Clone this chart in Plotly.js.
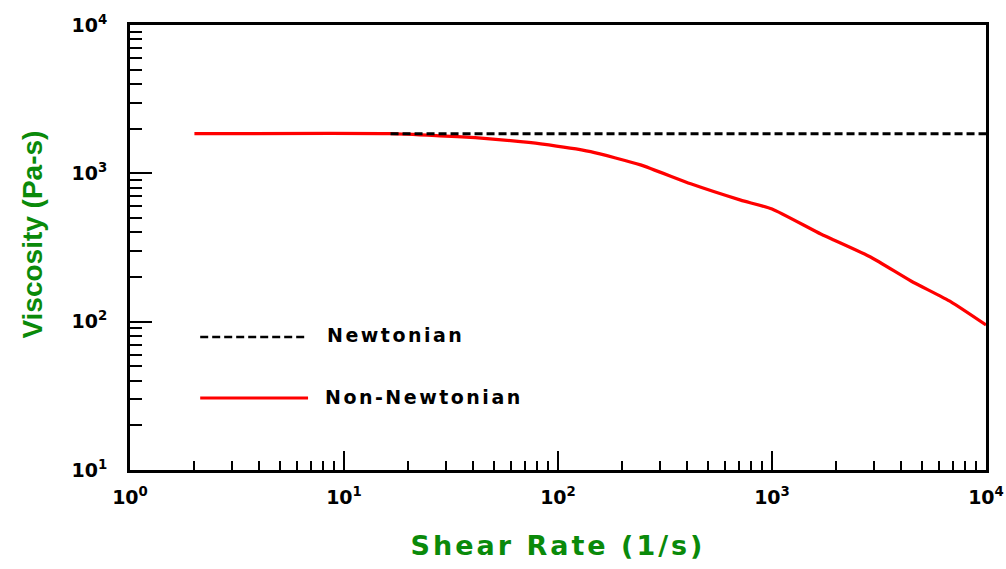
<!DOCTYPE html>
<html>
<head>
<meta charset="utf-8">
<script src="https://cdn.plot.ly/plotly-3.0.1.min.js"></script>
<style>
  html, body { margin: 0; padding: 0; background: #fff; }
  #chart { width: 1006px; height: 569px; }
  .xtitle { letter-spacing: 3px; }
  .annotation-text { letter-spacing: 2.5px; }
  .annotation-text[style*="Liberation"] { letter-spacing: 0; }
</style>
</head>
<body>
<div id="chart"></div>
<script>
// Shear-thinning viscosity curve vs. a constant Newtonian viscosity
const shearRateNonNewtonian = [2, 16.5, 28, 41, 60, 83, 142, 243, 417, 714, 1000, 1690, 2900, 4460, 6860, 10000];
const viscosityNonNewtonian = [1850, 1850, 1790, 1740, 1660, 1580, 1400, 1140, 850, 660, 575, 390, 272, 188, 136, 95];

const shearRateNewtonian = [16.5, 10000];
const viscosityNewtonian = [1850, 1850];

const xTickVals = [1, 10, 100, 1000, 10000];
const xTickText = ['10<sup>0</sup>', '10<sup>1</sup>', '10<sup>2</sup>', '10<sup>3</sup>', '10<sup>4</sup>'];
const yTickVals = [10, 100, 1000, 10000];
const yTickText = ['10<sup>1</sup>', '10<sup>2</sup>', '10<sup>3</sup>', '10<sup>4</sup>'];

const seriesNames = ['Newtonian', 'Non-Newtonian'];
const xTitle = 'Shear Rate (1/s)';
const yTitle = 'Viscosity (Pa-s)';

// minor ticks at 2..9 of every decade
function minorTicks(lo, hi) {
  const out = [];
  for (let d = lo; d < hi; d++) {
    for (let k = 2; k <= 9; k++) out.push(k * Math.pow(10, d));
  }
  return out;
}

const green = '#0a8a0a';
const tickFont = { family: 'DejaVu Sans', size: 19, color: '#000', weight: 'bold' };
const legendFont = { family: 'DejaVu Sans', size: 19, color: '#000', weight: 'bold' };

const traces = [
  {
    x: shearRateNonNewtonian, y: viscosityNonNewtonian,
    type: 'scatter', mode: 'lines', name: seriesNames[1],
    line: { color: '#ff0000', width: 3.2, shape: 'spline', smoothing: 0.5 }
  },
  {
    x: shearRateNewtonian, y: viscosityNewtonian,
    type: 'scatter', mode: 'lines', name: seriesNames[0],
    line: { color: '#000', width: 3, dash: '8px,4px' }
  }
];

const layout = {
  width: 1006, height: 569,
  paper_bgcolor: '#fff', plot_bgcolor: '#fff',
  margin: { l: 130, r: 20, t: 25, b: 99 },
  showlegend: false,
  xaxis: {
    type: 'log', range: [0, 4],
    showline: true, linecolor: '#000', linewidth: 3, mirror: true,
    showgrid: false, zeroline: false,
    tickmode: 'array', tickvals: xTickVals, ticktext: xTickText,
    ticks: 'inside', ticklen: 19, tickwidth: 2, tickcolor: '#000',
    ticklabelstandoff: 8,
    tickfont: tickFont,
    minor: { tickmode: 'array', tickvals: minorTicks(0, 4), ticks: 'inside', ticklen: 9, tickwidth: 2, tickcolor: '#000', showgrid: false },
    title: { text: xTitle, standoff: 30, font: { family: 'DejaVu Sans', size: 27, color: green, weight: 'bold' } },
    automargin: false
  },
  yaxis: {
    type: 'log', range: [1, 4],
    showline: true, linecolor: '#000', linewidth: 3, mirror: true,
    showgrid: false, zeroline: false,
    tickmode: 'array', tickvals: yTickVals, ticktext: yTickText,
    ticks: 'inside', ticklen: 22, tickwidth: 2, tickcolor: '#000',
    ticklabelstandoff: 16,
    tickfont: tickFont,
    minor: { tickmode: 'array', tickvals: minorTicks(1, 4), ticks: 'inside', ticklen: 12, tickwidth: 2, tickcolor: '#000', showgrid: false },
    automargin: false
  },
  // in-plot legend
  shapes: [
    { type: 'line', xref: 'paper', yref: 'paper', x0: 0.082, x1: 0.208, y0: 0.299, y1: 0.299,
      line: { color: '#000', width: 2.5, dash: '8px,4px' } },
    { type: 'line', xref: 'paper', yref: 'paper', x0: 0.082, x1: 0.208, y0: 0.162, y1: 0.162,
      line: { color: '#ff0000', width: 3 } }
  ],
  annotations: [
    { xref: 'paper', yref: 'paper', x: 0.228, y: 0.303, xanchor: 'left', yanchor: 'middle', showarrow: false,
      text: seriesNames[0], font: legendFont },
    { xref: 'paper', yref: 'paper', x: 0.226, y: 0.164, xanchor: 'left', yanchor: 'middle', showarrow: false,
      text: seriesNames[1], font: legendFont },
    // vertical axis title
    { xref: 'paper', yref: 'paper', x: -0.115, y: 0.528, xanchor: 'center', yanchor: 'middle', showarrow: false,
      textangle: -90, text: yTitle,
      font: { family: 'Liberation Sans', size: 28, color: green, weight: 'bold' } }
  ]
};

Plotly.newPlot('chart', traces, layout, { displayModeBar: false, staticPlot: true });
</script>
</body>
</html>
